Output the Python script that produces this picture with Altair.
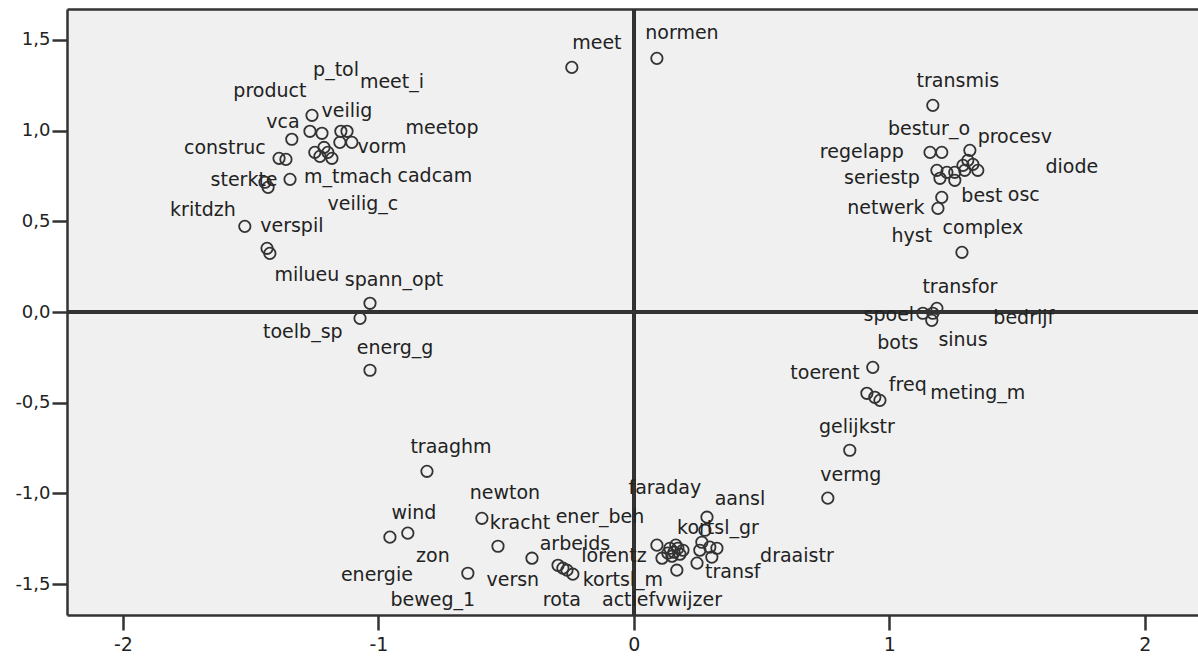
import altair as alt
import pandas as pd

# ---- point coordinates (dimension 1, dimension 2) ----
point_x = [
    -1.260, -1.339, -1.268, -1.221, -1.147, -1.123, -1.151, -1.104, -1.249, -1.213,
    -1.198, -1.182, -1.229, -1.389, -1.362, -1.346, -1.444, -1.432, -1.523, -1.436,
    -1.425, -1.033, -1.072, -1.033, -0.243, 0.090,
    1.170, 1.159, 1.205, 1.315, 1.186, 1.225, 1.256, 1.288, 1.307, 1.327,
    1.346, 1.295, 1.198, 1.256, 1.205, 1.190, 1.284,
    1.186, 1.170, 1.131, 1.166, 0.935, 0.912, 0.943, 0.963, 0.845, 0.759,
    -0.810, -0.955, -0.885, -0.595, -0.532, -0.399, -0.650, -0.297, -0.278, -0.262, -0.239,
    0.090, 0.110, 0.168, 0.141, 0.157, 0.172, 0.149, 0.180, 0.164, 0.133, 0.192,
    0.286, 0.278, 0.266, 0.297, 0.325, 0.258, 0.305, 0.247,
]
point_y = [
    1.084, 0.952, 0.996, 0.985, 0.996, 0.996, 0.935, 0.935, 0.880, 0.907,
    0.880, 0.847, 0.858, 0.847, 0.841, 0.731, 0.715, 0.687, 0.472, 0.351,
    0.323, 0.048, -0.035, -0.321, 1.348, 1.398,
    1.139, 0.880, 0.880, 0.891, 0.781, 0.770, 0.770, 0.808, 0.836, 0.814,
    0.781, 0.781, 0.737, 0.726, 0.632, 0.571, 0.329,
    0.020, -0.007, -0.007, -0.046, -0.305, -0.448, -0.470, -0.487, -0.762, -1.026,
    -0.878, -1.241, -1.219, -1.137, -1.291, -1.357, -1.440, -1.396, -1.412, -1.423, -1.445,
    -1.285, -1.357, -1.423, -1.302, -1.324, -1.302, -1.346, -1.335, -1.285, -1.329, -1.313,
    -1.131, -1.203, -1.269, -1.296, -1.302, -1.313, -1.351, -1.384,
]

# ---- variable labels and where they are printed ----
label_text = [
    "product", "p_tol", "meet_i", "vca", "veilig", "meetop", "construc", "vorm",
    "m_tmach", "cadcam", "sterkte", "veilig_c", "kritdzh", "verspil", "milueu",
    "spann_opt", "toelb_sp", "energ_g", "meet", "normen",
    "transmis", "bestur_o", "procesv", "regelapp", "diode", "seriestp", "best", "osc",
    "netwerk", "hyst", "complex", "transfor", "spoel", "bedrijf", "sinus", "bots",
    "toerent", "freq", "meting_m", "gelijkstr", "vermg",
    "traaghm", "newton", "faraday", "aansl", "wind", "kracht", "ener_beh", "kortsl_gr",
    "zon", "arbeids", "lorentz", "draaistr", "energie", "versn", "kortsl_m", "transf",
    "beweg_1", "rota", "actiefvwijzer",
]
label_x = [
    -1.425, -1.166, -0.947, -1.374, -1.123, -0.751, -1.601, -0.986,
    -1.119, -0.779, -1.526, -1.061, -1.687, -1.339, -1.280,
    -0.939, -1.296, -0.935, -0.145, 0.188,
    1.268, 1.155, 1.491, 0.892, 1.714, 0.971, 1.362, 1.526,
    0.986, 1.088, 1.366, 1.276, 0.998, 1.526, 1.288, 1.033,
    0.748, 1.072, 1.346, 0.873, 0.849,
    -0.716, -0.505, 0.121, 0.415, -0.861, -0.446, -0.133, 0.329,
    -0.787, -0.231, -0.078, 0.638, -1.006, -0.474, -0.043, 0.387,
    -0.787, -0.282, 0.110,
]
label_y = [
    1.216, 1.332, 1.266, 1.045, 1.106, 1.012, 0.902, 0.907,
    0.742, 0.748, 0.726, 0.593, 0.560, 0.472, 0.202,
    0.175, -0.112, -0.200, 1.480, 1.536,
    1.271, 1.007, 0.963, 0.880, 0.797, 0.737, 0.637, 0.643,
    0.571, 0.417, 0.461, 0.136, -0.018, -0.035, -0.156, -0.172,
    -0.338, -0.404, -0.448, -0.635, -0.900,
    -0.745, -0.999, -0.971, -1.032, -1.109, -1.164, -1.131, -1.192,
    -1.346, -1.280, -1.346, -1.346, -1.451, -1.478, -1.478, -1.434,
    -1.588, -1.588, -1.588,
]

x_ticks = [-2, -1, 0, 1, 2]
y_ticks = [-1.5, -1.0, -0.5, 0.0, 0.5, 1.0, 1.5]

points_df = pd.DataFrame({"x": point_x, "y": point_y})
labels_df = pd.DataFrame({"name": label_text, "lx": label_x, "ly": label_y})

INK = "#333333"
FONT = "DejaVu Sans"

xscale = alt.Scale(domain=[-2.219, 2.208], nice=False, zero=False)
yscale = alt.Scale(domain=[-1.67, 1.67], nice=False, zero=False)

x_axis = alt.Axis(
    orient="bottom", values=x_ticks, title=None, grid=False,
    labelExpr="(datum.value < 0 ? '-' : '') + format(abs(datum.value), 'd')",
    labelFont=FONT, labelFontSize=19, labelColor="#222222", labelPadding=5,
    tickSize=15, tickWidth=2.5, tickColor=INK,
    domainColor=INK, domainWidth=2.5,
)
y_axis = alt.Axis(
    values=y_ticks, title=None, grid=False,
    labelExpr="(datum.value < 0 ? '-' : '') + replace(format(abs(datum.value), '.1f'), '.', ',')",
    labelFont=FONT, labelFontSize=18, labelColor="#222222", labelPadding=2,
    tickSize=15, tickWidth=2.5, tickColor=INK,
    domainColor=INK, domainWidth=2.5,
)
top_axis = alt.Axis(
    orient="top", title=None, grid=False, labels=False, ticks=False,
    domainColor=INK, domainWidth=2.5,
)

# zero reference lines
vline = alt.Chart(points_df).mark_rule(color=INK, strokeWidth=2.5).encode(
    x=alt.XDatum(0, scale=xscale, axis=None, type="quantitative")
)
hline = alt.Chart(points_df).mark_rule(color=INK, strokeWidth=2.5).encode(
    y=alt.YDatum(0, scale=yscale, axis=None, type="quantitative")
)

# invisible layer that only carries the top frame line
top_frame = alt.Chart(points_df).mark_point(opacity=0).encode(
    x=alt.X("x:Q", scale=xscale, axis=top_axis),
    y=alt.Y("y:Q", scale=yscale, axis=None),
)

points = alt.Chart(points_df).mark_point(
    shape="circle", size=130, filled=False, stroke=INK, strokeWidth=1.8, opacity=1
).encode(
    x=alt.X("x:Q", scale=xscale, axis=x_axis),
    y=alt.Y("y:Q", scale=yscale, axis=y_axis),
)

labels = alt.Chart(labels_df).mark_text(
    font=FONT, fontSize=19, color="#222222", align="center", baseline="middle"
).encode(
    x=alt.X("lx:Q", scale=xscale, axis=None),
    y=alt.Y("ly:Q", scale=yscale, axis=None),
    text="name:N",
)

chart = (
    alt.layer(vline, hline, top_frame, points, labels)
    .resolve_axis(x="independent", y="independent")
    .properties(
        width=1131, height=606,
        autosize=alt.AutoSizeParams(type="none"),
        padding={"left": 67, "top": 9, "right": 0, "bottom": 42},
        background="#ffffff",
    )
    .configure_view(fill="#f0f0f0", stroke=None)
)

chart.save("out.html", embed_options={"renderer": "svg", "actions": False})
